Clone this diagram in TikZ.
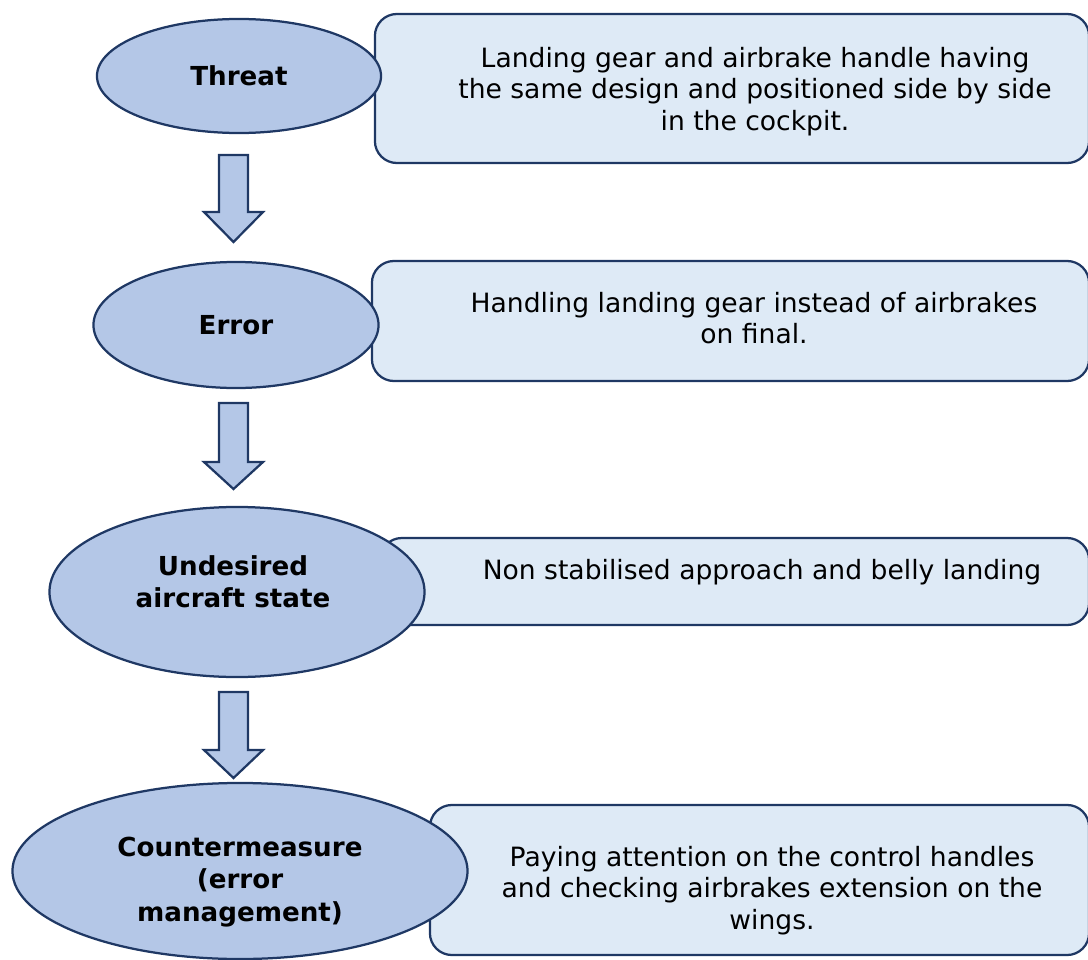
\documentclass[tikz,border=0pt]{standalone}
\usepackage{fontspec}
\setmainfont{DejaVu Sans}
\usetikzlibrary{shapes.geometric}

\definecolor{ovalfill}{HTML}{B4C7E7}
\definecolor{panelfill}{HTML}{DEEAF6}
\definecolor{edgeblue}{HTML}{1F3864}

\begin{document}
\begin{tikzpicture}[x=0.025cm, y=-0.025cm,
    oval/.style={ellipse, draw=edgeblue, fill=ovalfill, line width=1.6pt, inner sep=0pt,
        align=center, font=\fontsize{18.6}{23}\selectfont\bfseries},
    ovaltext/.style={align=center, inner sep=0pt, font=\fontsize{18.6}{23}\selectfont\bfseries},
    panel/.style={rectangle, draw=edgeblue, fill=panelfill, line width=1.6pt,
        rounded corners=0.55cm},
    blurb/.style={align=center, inner sep=0pt, font=\fontsize{18.9}{22.5}\selectfont},
    blockarrow/.style={draw=edgeblue, fill=ovalfill, line width=1.6pt, line join=miter}]
    \useasboundingbox (0,0) rectangle (1088,960);

    % panels on the right
    \node[panel, minimum width=17.85cm, minimum height=3.725cm] (panelA) at (732,88.5) {};
    \node[panel, minimum width=17.925cm, minimum height=3cm] (panelB) at (730.5,321) {};
    \node[panel, minimum width=17.725cm, minimum height=2.175cm] (panelC) at (734.5,581.5) {};
    \node[panel, minimum width=16.475cm, minimum height=3.75cm] (panelD) at (759.5,880) {};

    \node[blurb] (textA) at (755,91.5) {Landing gear and airbrake handle having\\the same design and positioned side by side\\in the cockpit.};
    \node[blurb] (textB) at (754,318) {Handling landing gear instead of airbrakes\\on final.};
    \node[blurb] (textC) at (762,572) {Non stabilised approach and belly landing};
    \node[blurb] (textD) at (772,890.5) {Paying attention on the control handles\\and checking airbrakes extension on the\\wings.};

    % ovals on the left
    \node[oval, minimum width=7.1cm, minimum height=2.85cm] (threat) at (239,76) {Threat};
    \node[oval, minimum width=7.125cm, minimum height=3.15cm] (error) at (236,325) {Error};
    \node[oval, minimum width=9.375cm, minimum height=4.25cm] (state) at (237,592) {};
    \node[ovaltext] (statetext) at (233,582) {Undesired\\aircraft state};
    \node[oval, minimum width=11.375cm, minimum height=4.4cm] (counter) at (240,871) {};
    \node[ovaltext] (countertext) at (240,882) {Countermeasure\\(error\\management)};

    % block arrows
    \foreach \ytop/\ymid/\ytip in {155/212/242, 403/462/489, 692/750/778}
        \draw[blockarrow] (219,\ytop) -- (248,\ytop) -- (248,\ymid) -- (263,\ymid)
            -- (233.5,\ytip) -- (204,\ymid) -- (219,\ymid) -- cycle;
\end{tikzpicture}
\end{document}
